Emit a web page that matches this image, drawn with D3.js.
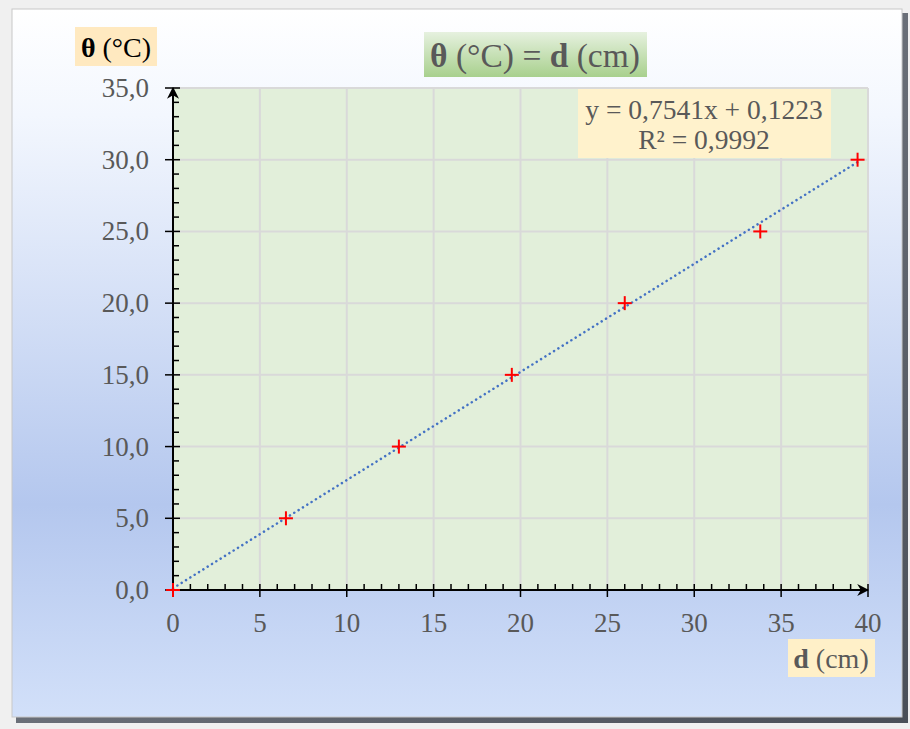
<!DOCTYPE html>
<html>
<head>
<meta charset="utf-8">
<script src="https://cdn.jsdelivr.net/npm/d3@7"></script>
<style>
  body { margin: 0; background: #f0f0f0; }
  svg { display: block; }
</style>
</head>
<body>
<svg id="drawing_region"></svg>
<script>
// data
const dValues = [0, 6.5, 13, 19.5, 26, 33.8, 39.4];
const thetaValues = [0, 5, 10, 15, 20, 25, 30];
const xTicks = [0, 5, 10, 15, 20, 25, 30, 35, 40];
const yTicks = [0, 5, 10, 15, 20, 25, 30, 35];
const slope = 0.7541;
const intercept = 0.1223;
const equationLines = ['y = 0,7541x + 0,1223', 'R² = 0,9992'];

const width = 910, height = 729;
const svg = d3.select('#drawing_region').attr('width', width).attr('height', height);
const defs = svg.append('defs');

// frame background gradient
const bg = defs.append('linearGradient').attr('id', 'bg').attr('x1', 0).attr('y1', 0).attr('x2', 0).attr('y2', 1);
bg.append('stop').attr('offset', '0%').attr('stop-color', '#ffffff');
bg.append('stop').attr('offset', '15%').attr('stop-color', '#f3f7fe');
bg.append('stop').attr('offset', '70%').attr('stop-color', '#b4c7ee');
bg.append('stop').attr('offset', '100%').attr('stop-color', '#d2e0f9');

const tg = defs.append('linearGradient').attr('id', 'tg').attr('x1', 0).attr('y1', 0).attr('x2', 0).attr('y2', 1);
tg.append('stop').attr('offset', '0%').attr('stop-color', '#e6f1df');
tg.append('stop').attr('offset', '100%').attr('stop-color', '#a8d08d');

const sh = defs.append('linearGradient').attr('id', 'sh').attr('x1', 0).attr('y1', 0).attr('x2', 1).attr('y2', 1);
sh.append('stop').attr('offset', '0%').attr('stop-color', '#8a8f98');
sh.append('stop').attr('offset', '100%').attr('stop-color', '#4a4f58');

const ar = defs.append('marker').attr('id', 'arrow').attr('viewBox', '0 0 10 10')
  .attr('refX', 9).attr('refY', 5).attr('markerWidth', 6).attr('markerHeight', 6).attr('orient', 'auto');
ar.append('path').attr('d', 'M0,0 L10,5 L0,10 L3,5 Z').attr('fill', '#000');

// shadow + frame
svg.append('rect').attr('x', 16).attr('y', 13).attr('width', 892).attr('height', 710).attr('fill', 'url(#sh)');
svg.append('rect').attr('x', 12).attr('y', 9).attr('width', 890).attr('height', 708)
  .attr('fill', 'url(#bg)').attr('stroke', '#c8c8c8').attr('stroke-width', 1);

const margin = { left: 173, top: 88, right: 910 - 868, bottom: 729 - 590 };
const innerW = width - margin.left - margin.right;
const innerH = height - margin.top - margin.bottom;
const chart = svg.append('g').attr('transform', `translate(${margin.left},${margin.top})`);

const xscale = d3.scaleLinear().domain([0, 40]).range([0, innerW]);
const yscale = d3.scaleLinear().domain([0, 35]).range([innerH, 0]);

chart.append('rect').attr('width', innerW).attr('height', innerH).attr('fill', '#e2efda');

// grid
chart.selectAll('.gx').data(xTicks.slice(1)).join('line')
  .attr('x1', d => xscale(d)).attr('x2', d => xscale(d)).attr('y1', 0).attr('y2', innerH)
  .attr('stroke', '#d9d9d9').attr('stroke-width', 2);
chart.selectAll('.gy').data(yTicks.slice(1)).join('line')
  .attr('y1', d => yscale(d)).attr('y2', d => yscale(d)).attr('x1', 0).attr('x2', innerW)
  .attr('stroke', '#d9d9d9').attr('stroke-width', 2);

// minor ticks
const xMinor = d3.range(1, 40).filter(v => v % 5 !== 0);
const yMinor = d3.range(1, 35).filter(v => v % 5 !== 0);
chart.selectAll('.mx').data(xMinor).join('line')
  .attr('x1', d => xscale(d)).attr('x2', d => xscale(d)).attr('y1', innerH).attr('y2', innerH - 6)
  .attr('stroke', '#000').attr('stroke-width', 1.5);
chart.selectAll('.my').data(yMinor).join('line')
  .attr('y1', d => yscale(d)).attr('y2', d => yscale(d)).attr('x1', 0).attr('x2', 6)
  .attr('stroke', '#000').attr('stroke-width', 1.5);

// major ticks crossing
chart.selectAll('.tx').data(xTicks).join('line')
  .attr('x1', d => xscale(d)).attr('x2', d => xscale(d)).attr('y1', innerH - 6).attr('y2', innerH + 7)
  .attr('stroke', '#000').attr('stroke-width', 1.5);
chart.selectAll('.ty').data(yTicks).join('line')
  .attr('y1', d => yscale(d)).attr('y2', d => yscale(d)).attr('x1', -8).attr('x2', 7)
  .attr('stroke', '#000').attr('stroke-width', 1.5);

// axis lines with arrows
chart.append('line').attr('x1', 0).attr('y1', innerH).attr('x2', innerW).attr('y2', innerH)
  .attr('stroke', '#000').attr('stroke-width', 2).attr('marker-end', 'url(#arrow)');
chart.append('line').attr('x1', 0).attr('y1', innerH).attr('x2', 0).attr('y2', 0)
  .attr('stroke', '#000').attr('stroke-width', 2).attr('marker-end', 'url(#arrow)');

// tick labels
const fmt = v => d3.format('.1f')(v).replace('.', ',');
chart.selectAll('.lx').data(xTicks).join('text')
  .attr('x', d => xscale(d)).attr('y', innerH + 42).attr('text-anchor', 'middle')
  .attr('font-family', 'Liberation Serif').attr('font-size', 27).attr('fill', '#595959').text(d => d);
chart.selectAll('.ly').data(yTicks).join('text')
  .attr('x', -24).attr('y', d => yscale(d) + 9).attr('text-anchor', 'end')
  .attr('font-family', 'Liberation Serif').attr('font-size', 27).attr('fill', '#595959').text(fmt);

// trendline
const xEnd = d3.max(dValues);
const line = d3.line().x(d => xscale(d)).y(d => yscale(slope * d + intercept));
chart.append('path').attr('d', line([0, xEnd])).attr('fill', 'none')
  .attr('stroke', '#4472c4').attr('stroke-width', 2.5).attr('stroke-dasharray', '0.1 5').attr('stroke-linecap', 'round');

// points
const pts = dValues.map((d, i) => ({ x: d, y: thetaValues[i] }));
const cross = chart.selectAll('.pt').data(pts).join('g')
  .attr('transform', d => `translate(${xscale(d.x)},${yscale(d.y)})`);
cross.append('line').attr('x1', -7).attr('x2', 7).attr('stroke', '#ff0000').attr('stroke-width', 2);
cross.append('line').attr('y1', -7).attr('y2', 7).attr('stroke', '#ff0000').attr('stroke-width', 2);

// equation box
svg.append('rect').attr('x', 578).attr('y', 89).attr('width', 253).attr('height', 69).attr('fill', '#fff2cc');
svg.append('text').attr('x', 704).attr('y', 119).attr('text-anchor', 'middle')
  .attr('font-family', 'Liberation Serif').attr('font-size', 27.5).attr('fill', '#595959').text(equationLines[0]);
svg.append('text').attr('x', 704).attr('y', 149).attr('text-anchor', 'middle')
  .attr('font-family', 'Liberation Serif').attr('font-size', 27.5).attr('fill', '#595959').text(equationLines[1]);

// title
svg.append('rect').attr('x', 424).attr('y', 32).attr('width', 223).attr('height', 45).attr('fill', 'url(#tg)');
const title = svg.append('text').attr('x', 535).attr('y', 67).attr('text-anchor', 'middle')
  .attr('font-family', 'Liberation Serif').attr('font-size', 33.5).attr('fill', '#595959');
title.append('tspan').attr('font-weight', 'bold').text('θ');
title.append('tspan').text(' (°C) = ');
title.append('tspan').attr('font-weight', 'bold').text('d');
title.append('tspan').text(' (cm)');

// y axis label
svg.append('rect').attr('x', 75).attr('y', 27).attr('width', 82).attr('height', 39).attr('fill', '#ffe9c0');
const ylab = svg.append('text').attr('x', 116).attr('y', 57).attr('text-anchor', 'middle')
  .attr('font-family', 'Liberation Serif').attr('font-size', 28).attr('fill', '#000');
ylab.append('tspan').attr('font-weight', 'bold').text('θ');
ylab.append('tspan').text(' (°C)');

// x axis label
svg.append('rect').attr('x', 788).attr('y', 639).attr('width', 87).attr('height', 38).attr('fill', '#fff0c8');
const xlab = svg.append('text').attr('x', 831).attr('y', 668).attr('text-anchor', 'middle')
  .attr('font-family', 'Liberation Serif').attr('font-size', 28).attr('fill', '#595959');
xlab.append('tspan').attr('font-weight', 'bold').text('d');
xlab.append('tspan').text(' (cm)');
</script>
</body>
</html>
